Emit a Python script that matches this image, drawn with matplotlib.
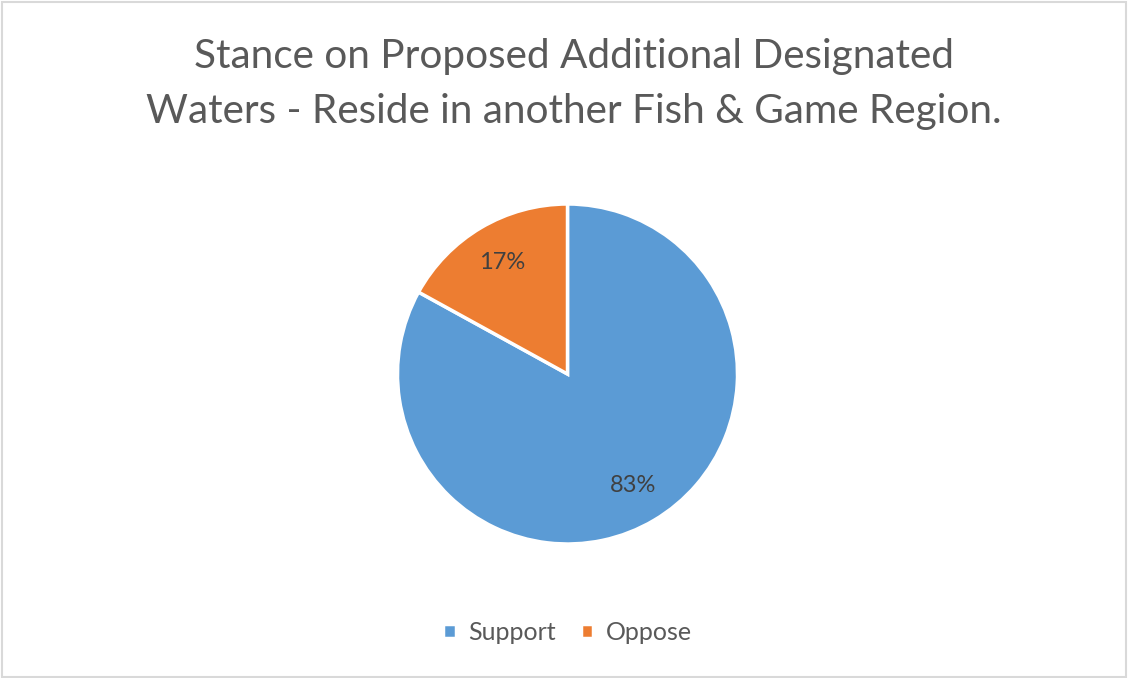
import matplotlib.pyplot as plt
from matplotlib.patches import Rectangle

labels = ["Support", "Oppose"]
values = [83, 17]
colors = ["#5B9BD5", "#ED7D31"]
title = "Stance on Proposed Additional Designated\nWaters - Reside in another Fish & Game Region."

plt.rcParams["font.family"] = ["Lato", "DejaVu Sans"]

W, H = 1128, 678
fig = plt.figure(figsize=(W / 100, H / 100), dpi=100)

# pie centre ~ (567, 374) px, radius ~170 px
cx, cy, r = 567.5, 374, 170
ax = fig.add_axes([(cx - r) / W, (H - cy - r) / H, 2 * r / W, 2 * r / H])
wedges, texts, autotexts = ax.pie(
    values, colors=colors, startangle=90, counterclock=False,
    autopct="%1.0f%%", pctdistance=0.76,
    wedgeprops=dict(edgecolor="white", linewidth=2.5),
    textprops=dict(color="#404040", fontsize=17),
)
ax.set_xlim(-1, 1)
ax.set_ylim(-1, 1)
ax.set_aspect("equal")

fig.text(574 / W, 1 - 84 / H, title, ha="center", va="center",
         fontsize=29.2, color="#595959", linespacing=1.57)

fig.legend(wedges, labels, loc="center", bbox_to_anchor=(0.503, 1 - 632 / H),
           ncol=2, frameon=False, fontsize=18, handlelength=0.5,
           handleheight=0.5, handletextpad=0.5, columnspacing=1.0,
           labelcolor="#595959")

fig.patches.append(Rectangle((0.002, 0.002), 0.996, 0.995, transform=fig.transFigure,
                             fill=False, edgecolor="#D9D9D9", linewidth=1.5))

fig.savefig("out.png", dpi=100)
